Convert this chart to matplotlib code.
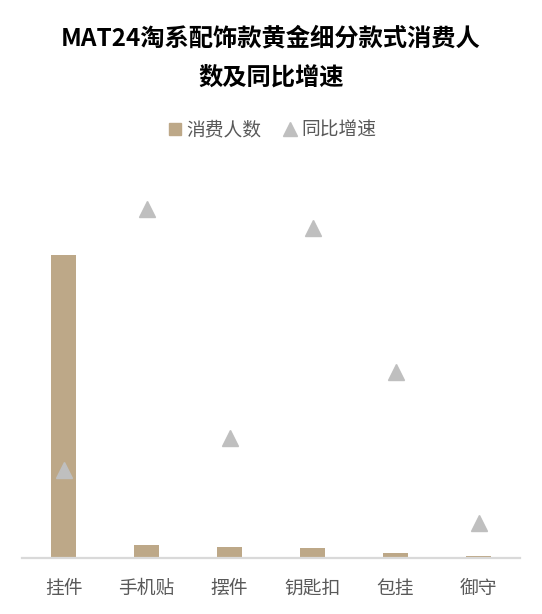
import matplotlib.pyplot as plt
plt.switch_backend('agg')

from matplotlib.lines import Line2D
import numpy as np

plt.rcParams['font.family'] = ['Noto Sans CJK SC', 'DejaVu Sans']

categories = ['挂件', '手机贴', '摆件', '钥匙扣', '包挂', '御守']
# relative consumer counts (index, 挂件 = 100)
consumers = [100, 4.2, 3.5, 3.2, 1.5, 0.46]
# YoY growth (%)
growth = [22.0, 87.7, 30.1, 82.9, 46.7, 8.7]

bar_color = '#BDA888'
tri_color = '#BFBFBF'
text_color = '#595959'

fig = plt.figure(figsize=(5.42, 6.14), dpi=100)
ax = fig.add_axes([22 / 542, 56.5 / 614, 498 / 542, 397.5 / 614])
x = np.arange(len(categories))

ax.bar(x, consumers, width=0.31, color=bar_color, zorder=2)
ax.set_xlim(-0.5, len(categories) - 0.5)
ax.set_ylim(0, 100 * 397.5 / 302.5)
ax.set_yticks([])
for side in ['left', 'right', 'top']:
    ax.spines[side].set_visible(False)
ax.spines['bottom'].set_color('#D9D9D9')
ax.spines['bottom'].set_linewidth(1.6)
ax.set_xticks(x)
ax.set_xticklabels(categories, fontsize=13.5, color=text_color)
ax.tick_params(axis='x', length=0, pad=15)

ax2 = ax.twinx()
ax2.plot(x, growth, linestyle='none', marker='^', markersize=11.5,
         color=tri_color, zorder=3)
ax2.set_ylim(0, 100)
ax2.set_yticks([])
for side in ['left', 'right', 'top', 'bottom']:
    ax2.spines[side].set_visible(False)

fig.text(0.5, 1 - 38 / 614, 'MAT24淘系配饰款黄金细分款式消费人', ha='center', va='center',
         fontsize=17.5, fontweight='bold', color='black')
fig.text(0.5, 1 - 79 / 614, '数及同比增速', ha='center', va='center',
         fontsize=17.5, fontweight='bold', color='black')

handles = [Line2D([], [], linestyle='none', marker='s', markersize=8, color=bar_color),
           Line2D([], [], linestyle='none', marker='^', markersize=10, color=tri_color)]
leg = fig.legend(handles, ['消费人数', '同比增速'], loc='center', bbox_to_anchor=(0.5, 1 - 130 / 614),
                 ncol=2, frameon=False, fontsize=13.5, handletextpad=0.1, columnspacing=1.0,
                 handlelength=1.0)
for t in leg.get_texts():
    t.set_color(text_color)

fig.savefig('out.png', dpi=100)
